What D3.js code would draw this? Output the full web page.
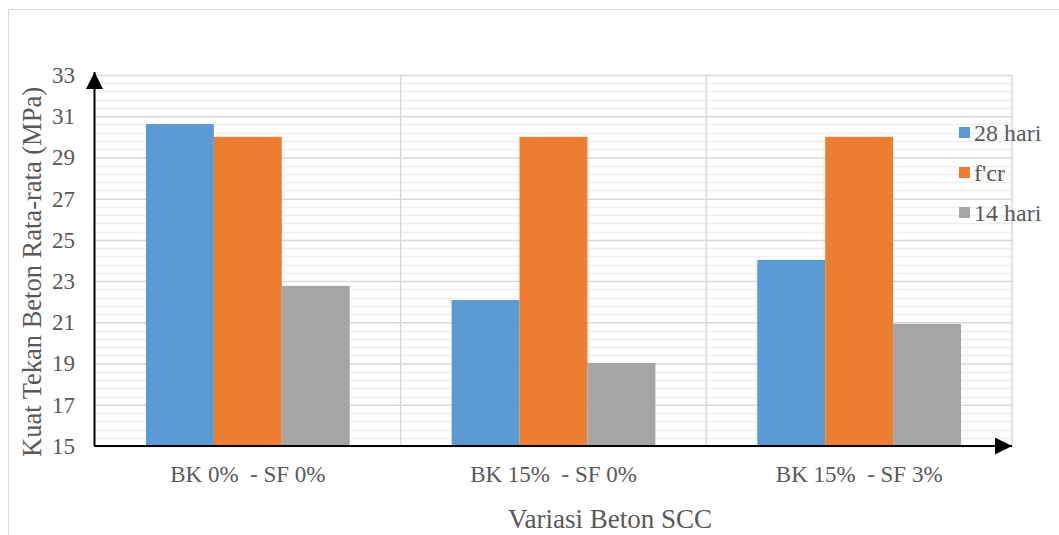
<!DOCTYPE html>
<html>
<head>
<meta charset="utf-8">
<script src="https://cdn.jsdelivr.net/npm/d3@7"></script>
<style>
  body { margin: 0; background: #fff; }
  svg { display: block; }
  text { font-family: "Liberation Serif", "DejaVu Serif", serif; fill: #595959; white-space: pre; }
</style>
</head>
<body>
<div id="chart"></div>
<script>
// chart data
const categories = ['BK 0%  - SF 0%', 'BK 15%  - SF 0%', 'BK 15%  - SF 3%'];
const seriesNames = ['28 hari', "f'cr", '14 hari'];
const seriesColors = ['#5b9bd5', '#ed7d31', '#a5a5a5'];
const values28 = [30.62, 22.08, 24.03];
const valuesFcr = [30.0, 30.0, 30.0];
const values14 = [22.77, 19.03, 20.93];
const yTicks = [15, 17, 19, 21, 23, 25, 27, 29, 31, 33];

const width = 1059, height = 535;
const margin = { left: 95, right: 47, top: 75, bottom: 89 };
const plotW = width - margin.left - margin.right;
const plotH = height - margin.top - margin.bottom;

const svg = d3.select('#chart').append('svg')
    .attr('width', width)
    .attr('height', height);

// outer chart frame
svg.append('rect')
    .attr('x', 8.5).attr('y', 9.5)
    .attr('width', 1070).attr('height', 540)
    .attr('fill', 'none')
    .attr('stroke', '#d9d9d9');

const g = svg.append('g').attr('transform', `translate(${margin.left},${margin.top})`);

const x0 = d3.scaleBand().domain(categories).range([0, plotW]).paddingInner(0).paddingOuter(0);
const x1 = d3.scaleBand().domain(seriesNames).range([0, x0.bandwidth()]).paddingOuter(0.75).paddingInner(0);
const y = d3.scaleLinear().domain([15, 33]).range([plotH, 0]);

// minor gridlines
const minor = d3.range(15, 33.001, 0.4).filter(v => Math.abs((v - 15) % 2) > 0.01 && Math.abs((v - 15) % 2 - 2) > 0.01);
g.append('g').selectAll('line').data(minor).enter().append('line')
    .attr('x1', 0).attr('x2', plotW)
    .attr('y1', d => Math.round(y(d)) + 0.5).attr('y2', d => Math.round(y(d)) + 0.5)
    .attr('stroke', '#efefef').attr('stroke-width', 1.5);

// major gridlines
g.append('g')
    .call(d3.axisLeft(y).tickValues(yTicks).tickSize(-plotW).tickFormat(''))
    .call(s => s.select('.domain').remove())
    .call(s => s.selectAll('line').attr('stroke', '#d9d9d9').attr('stroke-width', 1.5));

// vertical category separators
g.append('g').selectAll('line').data(categories).enter().append('line')
    .attr('x1', d => x0(d) + x0.bandwidth()).attr('x2', d => x0(d) + x0.bandwidth())
    .attr('y1', 0).attr('y2', plotH)
    .attr('stroke', '#d9d9d9').attr('stroke-width', 1.5);

// bars
const series = [values28, valuesFcr, values14];
const groups = g.append('g').selectAll('g').data(categories).enter().append('g')
    .attr('transform', d => `translate(${x0(d)},0)`);
groups.selectAll('rect')
    .data((d, i) => seriesNames.map((s, k) => ({ s, v: series[k][i], c: seriesColors[k] })))
    .enter().append('rect')
    .attr('x', d => x1(d.s))
    .attr('width', x1.bandwidth())
    .attr('y', d => y(d.v))
    .attr('height', d => plotH - y(d.v))
    .attr('fill', d => d.c);

// y tick labels
g.append('g')
    .call(d3.axisLeft(y).tickValues(yTicks).tickSize(0).tickPadding(20))
    .call(s => s.select('.domain').remove())
    .call(s => s.selectAll('text').style('font-size', '23px').style('fill', '#595959')
        .style('font-family', '"Liberation Serif", serif'));

// x category labels
g.append('g')
    .attr('transform', `translate(0,${plotH})`)
    .call(d3.axisBottom(x0).tickSize(0).tickPadding(20))
    .call(s => s.select('.domain').remove())
    .call(s => s.selectAll('text').style('font-size', '23px').style('fill', '#595959')
        .style('font-family', '"Liberation Serif", serif'));

// axes with arrows
svg.append('defs').append('marker')
    .attr('id', 'arrow')
    .attr('viewBox', '0 0 10 10')
    .attr('refX', 10).attr('refY', 5)
    .attr('markerWidth', 17).attr('markerHeight', 17)
    .attr('markerUnits', 'userSpaceOnUse')
    .attr('orient', 'auto')
    .append('path').attr('d', 'M0,0 L10,5 L0,10 Z').attr('fill', '#000');

g.append('line')
    .attr('x1', -0.5).attr('x2', -0.5)
    .attr('y1', plotH).attr('y2', -3)
    .attr('stroke', '#000').attr('stroke-width', 2)
    .attr('marker-end', 'url(#arrow)');

g.append('line')
    .attr('x1', -1).attr('x2', plotW)
    .attr('y1', plotH).attr('y2', plotH)
    .attr('stroke', '#000').attr('stroke-width', 2)
    .attr('marker-end', 'url(#arrow)');

// legend
const legend = svg.append('g').attr('transform', 'translate(959,127)');
const items = legend.selectAll('g').data(seriesNames).enter().append('g')
    .attr('transform', (d, i) => `translate(0,${i * 40})`);
items.append('rect').attr('width', 11).attr('height', 11).attr('fill', (d, i) => seriesColors[i]);
items.append('text').attr('x', 15).attr('y', 14).style('font-size', '24px').text(d => d);

// axis titles
svg.append('text')
    .attr('transform', 'translate(41,272) rotate(-90)')
    .attr('text-anchor', 'middle')
    .style('font-size', '26.5px')
    .text('Kuat Tekan Beton Rata-rata (MPa)');

svg.append('text')
    .attr('x', 610)
    .attr('y', 528)
    .attr('text-anchor', 'middle')
    .style('font-size', '27px')
    .text('Variasi Beton SCC');
</script>
</body>
</html>
